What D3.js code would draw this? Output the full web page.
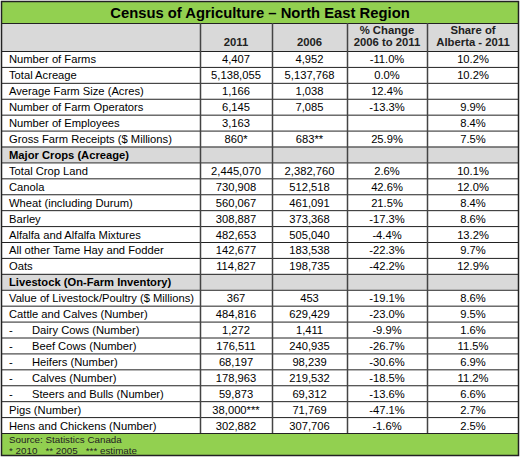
<!DOCTYPE html>
<html><head><meta charset="utf-8">
<script src="https://cdn.jsdelivr.net/npm/d3@7"></script>
<style>body{margin:0;background:#fff}svg{display:block}text{font-family:"Liberation Sans",Arial,sans-serif}</style>
</head><body><svg id="c" width="520" height="457"></svg>
<script>
const title = "Census of Agriculture \u2013 North East Region";
const headers = [["",""],["","2011"],["","2006"],["% Change","2006 to 2011"],["Share of","Alberta - 2011"]];
const labels = ["Number of Farms","Total Acreage","Average Farm Size (Acres)","Number of Farm Operators","Number of Employees","Gross Farm Receipts ($ Millions)",
 "Major Crops (Acreage)","Total Crop Land","Canola","Wheat (including Durum)","Barley","Alfalfa and Alfalfa Mixtures","All other Tame Hay and Fodder","Oats",
 "Livestock (On-Farm Inventory)","Value of Livestock/Poultry ($ Millions)","Cattle and Calves (Number)","Dairy Cows (Number)","Beef Cows (Number)","Heifers (Number)","Calves (Number)","Steers and Bulls (Number)","Pigs (Number)","Hens and Chickens (Number)"];
const rowType = ["d","d","d","d","d","d","s","d","d","d","d","d","d","d","s","d","d","i","i","i","i","i","d","d"];
const v2011 = ["4,407","5,138,055","1,166","6,145","3,163","860*","","2,445,070","730,908","560,067","308,887","482,653","142,677","114,827","","367","484,816","1,272","176,511","68,197","178,963","59,873","38,000***","302,882"];
const v2006 = ["4,952","5,137,768","1,038","7,085","","683**","","2,382,760","512,518","461,091","373,368","505,040","183,538","198,735","","453","629,429","1,411","240,935","98,239","219,532","69,312","71,769","307,706"];
const pctChange = ["-11.0%","0.0%","12.4%","-13.3%","","25.9%","","2.6%","42.6%","21.5%","-17.3%","-4.4%","-22.3%","-42.2%","","-19.1%","-23.0%","-9.9%","-26.7%","-30.6%","-18.5%","-13.6%","-47.1%","-1.6%"];
const share = ["10.2%","10.2%","","9.9%","8.4%","7.5%","","10.1%","12.0%","8.4%","8.6%","13.2%","9.7%","12.9%","","8.6%","9.5%","1.6%","11.5%","6.9%","11.2%","6.6%","2.7%","2.5%"];
const footnotes = ["Source: Statistics Canada","* 2010   ** 2005   *** estimate"];

const svg = d3.select("#c");
const colEdges = [1,200,272,347,427,519];
const L = 1, R = 519;
const green = "#92D050", gray = "#D9D9D9", line = "#222", vline = "#444";
const y = d3.scaleBand().domain(d3.range(labels.length)).range([51,433]);
const cx = i => (colEdges[i]+colEdges[i+1])/2;

// title
svg.append("rect").attr("x",L).attr("y",1).attr("width",R-L).attr("height",22).attr("fill",green);
svg.append("text").attr("x",(L+R)/2).attr("y",17.5).attr("text-anchor","middle").attr("font-size",14.8).attr("font-weight","bold").text(title);
// header
svg.append("rect").attr("x",L).attr("y",23).attr("width",R-L).attr("height",28).attr("fill",gray);
headers.forEach((h,i)=>{
  h.forEach((t,k)=>{ if(t) svg.append("text").attr("x",cx(i)).attr("y",k?46:33.5).attr("text-anchor","middle").attr("font-size",11.3).attr("font-weight","bold").attr("fill","#222").text(t);});
});
// rows
const g = svg.append("g");
labels.forEach((lab,r)=>{
  const y0 = y(r), h = y.bandwidth();
  if(rowType[r]==="s") g.append("rect").attr("x",L).attr("y",y0).attr("width",R-L).attr("height",h).attr("fill",gray);
  const ty = y0 + h/2 + 4.5;
  if(rowType[r]==="i"){
    g.append("text").attr("x",9).attr("y",ty).attr("font-size",11.2).text("-");
    g.append("text").attr("x",32).attr("y",ty).attr("font-size",11.2).text(lab);
  } else {
    g.append("text").attr("x",9).attr("y",ty).attr("font-size",11.2).attr("font-weight",rowType[r]==="s"?"bold":null).text(lab);
  }
  [v2011,v2006,pctChange,share].forEach((arr,c)=>{
    if(arr[r]) g.append("text").attr("x",cx(c+1)).attr("y",ty).attr("text-anchor","middle").attr("font-size",11.2).text(arr[r]);
  });
});
// footer
svg.append("rect").attr("x",L).attr("y",433).attr("width",R-L).attr("height",23).attr("fill",green);
footnotes.forEach((t,i)=>svg.append("text").attr("x",9).attr("y",442.5+i*11).attr("font-size",9.8).attr("fill","#222").style("white-space","pre").text(t));

// grid lines
const hl = [23,51,...d3.range(1,labels.length).map(r=>y(r)),433];
hl.forEach(v=>svg.append("line").attr("x1",L).attr("x2",R).attr("y1",v+0.5).attr("y2",v+0.5).attr("stroke",line).attr("stroke-width",1));
colEdges.slice(1,-1).forEach(v=>svg.append("line").attr("x1",v+0.5).attr("x2",v+0.5).attr("y1",23).attr("y2",433).attr("stroke",vline).attr("stroke-width",1.5));
svg.append("rect").attr("x",L+0.5).attr("y",1.5).attr("width",R-L-1).attr("height",454).attr("fill","none").attr("stroke",line).attr("stroke-width",1.5);
</script></body></html>
